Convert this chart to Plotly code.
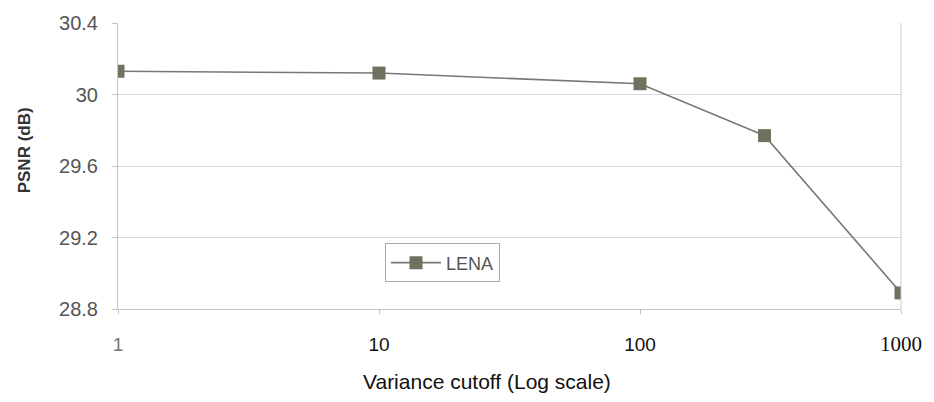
import plotly.graph_objects as go

x_vals = [1, 10, 100, 300, 1000]
psnr = [30.13, 30.12, 30.06, 29.77, 28.89]
x_ticks = [1, 10, 100, 1000]
x_ticktext = ["<span style='color:#777777'>1</span>", "10", "100",
              "<span style='font-family:Liberation Serif;font-size:21px'>1000</span>"]
y_ticks = [28.8, 29.2, 29.6, 30.0, 30.4]
y_ticktext = ["28.8", "29.2", "29.6", "30", "30.4"]

fig = go.Figure()
fig.add_trace(go.Scatter(
    x=x_vals, y=psnr, mode="lines+markers", name="LENA",
    line=dict(color="#777777", width=1.6),
    marker=dict(symbol="square", size=13, color="#6f725f",
                line=dict(width=0)),
))

fig.update_layout(
    width=934, height=402,
    margin=dict(l=118, r=27, t=17, b=93),
    paper_bgcolor="white", plot_bgcolor="white",
    font=dict(family="Liberation Sans, Arial", size=18, color="#222222"),
    showlegend=True,
    legend=dict(x=0.341, y=0.161, xanchor="left", yanchor="middle",
                bordercolor="#aaaaaa", borderwidth=1, bgcolor="white",
                font=dict(size=18, color="#555555"),
                itemwidth=50),
    xaxis=dict(type="log", range=[0, 3], tickvals=x_ticks, ticktext=x_ticktext,
               showgrid=False, showline=True, linecolor="#c4c4c4", linewidth=1,
               mirror=False, ticks="outside", ticklen=4, tickcolor="#c4c4c4",
               ticklabelstandoff=14,
               tickfont=dict(size=19, color="#111111")),
    yaxis=dict(range=[28.8, 30.4], tickvals=y_ticks, ticktext=y_ticktext,
               showgrid=True, gridcolor="#d8d8d8", gridwidth=1,
               showline=True, linecolor="#c4c4c4", linewidth=1,
               ticks="outside", ticklen=5, tickcolor="#c4c4c4",
               ticklabelstandoff=10, zeroline=False,
               tickfont=dict(size=20, color="#555555")),
    annotations=[
        dict(text="Variance cutoff (Log scale)", xref="paper", yref="paper",
             x=0.4715, y=-0.253, xanchor="center", yanchor="middle",
             showarrow=False, font=dict(size=21, color="#111111")),
        dict(text="<b>PSNR (dB)</b>", xref="paper", yref="paper",
             x=-0.12, y=0.555, xanchor="center", yanchor="middle",
             textangle=-90, showarrow=False,
             font=dict(size=17, color="#333333")),
    ],
)
# right border line
fig.add_shape(type="line", xref="paper", yref="paper", x0=1, x1=1, y0=0, y1=1,
              line=dict(color="#cccccc", width=1))

fig.write_html("out.html")
